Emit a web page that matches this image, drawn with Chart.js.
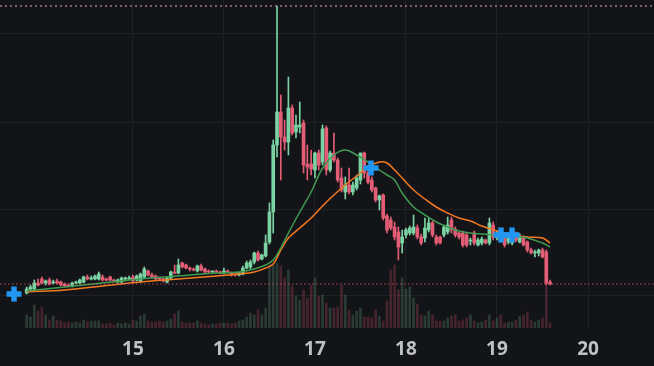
<!DOCTYPE html>
<html>
<head>
<meta charset="utf-8">
<script src="https://cdn.jsdelivr.net/npm/chart.js@4.4.1/dist/chart.umd.min.js"></script>
<style>
  html, body { margin: 0; padding: 0; background: #131417; }
  #chart { display: block; }
</style>
</head>
<body>
<canvas id="chart" width="654" height="366"></canvas>
<script>
// hourly candles, first one at day 13, 20:00
const START_DAY = 13 + 20 / 24;

const opens = [37,41,41,47,51,47,50,47,49,48, 46,45,44,47,47,48,53,51,51,51, 53,51,53,50,48,48,51,51,53,50,
  49,53,59,55,54,52,51,48,52,58, 57,67,65,62,61,59,64,61,59,58, 59,58,57,59,57,56,55,56,62,63,
  68,77,71,74,88,118,185,218,193,188, 222,198,203,207,166,166,160,177,168,202, 160,177,170,152,138,145,138,142,150,177,
  157,150,142,130,135,114,110,103,98,87, 95,97,97,102,93,92,100,107,93,93, 95,98,110,101,97,97,95,89,97,85,
  87,90,87,105,92,98,93,88,87,96, 88,92,88,80,77,77,80,78,48];
const highs = [43,45,50,51,53,50,52,50,51,49, 47,46,48,49,51,54,55,54,55,58, 55,52,54,51,51,53,53,54,55,55,
  57,63,60,57,55,53,52,53,59,65, 71,68,66,63,62,65,66,62,60,59, 60,59,62,60,58,57,58,64,69,70,
  78,79,76,95,127,190,324,235,210,253, 225,215,228,210,185,180,178,180,205,204, 179,197,172,162,153,162,148,155,177,178,
  162,153,143,135,136,116,113,108,103,100, 102,104,115,105,96,112,112,109,95,94, 105,113,113,103,98,99,97,92,99,92,
  93,91,112,108,99,100,95,96,100,98, 96,94,89,82,80,81,82,80,50];
const lows = [36,39,39,44,46,45,45,46,46,44, 43,43,43,46,46,47,50,50,50,50, 49,49,49,48,47,47,49,50,48,49,
  48,52,54,52,50,50,48,47,51,56, 56,62,61,59,59,58,59,57,57,57, 57,56,56,57,54,54,54,55,61,61,
  66,69,70,73,86,97,173,150,180,175, 195,192,197,157,150,155,152,160,165,155, 158,168,148,138,131,136,135,140,146,152,
  146,138,128,120,110,97,100,90,70,77, 92,95,95,91,85,88,98,93,85,86, 93,96,97,93,91,83,83,85,85,84,
  85,86,85,90,90,88,83,86,85,88, 87,84,78,76,73,74,72,45,45];
const closes = [41,43,47,45,47,49,46,48,47,45, 44,44,47,48,50,53,51,52,54,56, 50,50,50,49,50,52,52,52,49,54,
  56,61,55,53,51,51,49,52,58,57, 65,63,62,61,60,64,60,58,58,59, 58,57,59,58,55,55,57,62,67,68,
  77,70,75,87,118,185,218,193,188,222, 197,205,205,165,163,161,177,165,201,160, 177,170,150,140,145,138,145,152,177,157,
  148,140,130,134,112,100,102,93,83,93, 100,102,103,93,87,102,107,95,87,87, 103,105,100,95,93,85,85,90,87,90,
  91,87,107,93,97,90,85,94,98,90, 93,85,80,77,78,80,73,47,46];
const volumes = [13,11,23,17,21,13,8,12,8,7, 5,6,5,6,5,8,6,7,7,7, 4,4,5,3,5,4,5,4,8,7,
  12,14,7,6,6,7,6,7,9,14, 17,6,5,5,5,7,5,4,3,4, 4,5,5,5,4,5,7,8,11,15,
  13,18,13,20,63,63,65,62,50,58, 42,32,28,38,30,43,50,32,33,25, 20,20,21,43,33,18,13,17,20,11,
  11,10,18,12,7,27,58,63,38,50, 39,41,30,24,13,12,17,13,7,7, 7,10,12,13,7,8,10,13,7,5,
  6,8,13,7,10,13,5,6,6,8, 12,13,16,8,6,8,10,42,5];

// moving averages, at candle index
const maIndex = [0,10,20,30,40,50,56,60,63,65,67,69,72,75,78,81,84,87,90,93,95,97,99,102,105,108,111,114,117,120,124,128,132,136,138];
const maFast = [39,43,47,51,54,57,58,61,65,70,82,97,118,138,162,175,180,175,168,160,155,150,137,123,115,108,103,99,97,96,95,94,92,87,83];
const maSlow = [38,40,44,48,51,54,56,58,62,66,80,92,102,112,124,135,145,154,163,168,167,160,152,140,131,123,117,112,109,104,99,95,93,92,87];

const markerDays = [13.694, 17.616, 19.044, 19.165];
const markerPrices = [36, 162, 95, 95];

const dayTicks = [15, 16, 17, 18, 19, 20];
const priceGrid = [35, 121, 208, 296];

const X_MIN = 13.54, X_MAX = 20.725;
const UP = '#7bd3a3', DOWN = '#e45d76';
const UP_VOL = 'rgba(95,150,120,0.3)', DOWN_VOL = 'rgba(190,75,100,0.3)';

const times = opens.map((_, i) => START_DAY + i / 24);
const candleColors = opens.map((o, i) => closes[i] >= o ? UP : DOWN);
const volColors = opens.map((o, i) => closes[i] >= o ? UP_VOL : DOWN_VOL);
const topPrice = Math.max(...highs);
const lastPrice = closes[closes.length - 1];

const ctx = document.getElementById('chart').getContext('2d');
new Chart(ctx, {
  type: 'bar',
  data: {
    datasets: [
      {
        type: 'line', order: 0,
        data: markerDays.map((d, i) => ({ x: d, y: markerPrices[i] })),
        showLine: false,
        pointStyle: 'cross', pointRadius: 7.5,
        pointBorderWidth: 5.5, pointBorderColor: '#2196f3', pointBackgroundColor: '#2196f3',
        yAxisID: 'y', clip: false
      },
      {
        type: 'line', order: 1,
        data: [{ x: X_MIN, y: topPrice }, { x: X_MAX, y: topPrice }],
        borderColor: 'rgba(205,150,160,0.75)', borderWidth: 1.5, borderDash: [2, 3],
        pointRadius: 0, yAxisID: 'y'
      },
      {
        type: 'line', order: 1,
        data: [{ x: X_MIN, y: lastPrice }, { x: X_MAX, y: lastPrice }],
        borderColor: 'rgba(228,93,118,0.75)', borderWidth: 1.2, borderDash: [1.5, 2.5],
        pointRadius: 0, yAxisID: 'y'
      },
      {
        type: 'line', order: 2,
        data: maIndex.map((k, i) => ({ x: START_DAY + k / 24, y: maFast[i] })),
        borderColor: '#3f9a52', borderWidth: 1.5, tension: 0.4,
        pointRadius: 0, yAxisID: 'y'
      },
      {
        type: 'line', order: 2,
        data: maIndex.map((k, i) => ({ x: START_DAY + k / 24, y: maSlow[i] })),
        borderColor: '#f47a22', borderWidth: 1.5, tension: 0.4,
        pointRadius: 0, yAxisID: 'y'
      },
      {
        order: 3, grouped: false,
        data: times.map((t, i) => ({ x: t, y: [opens[i], closes[i]] })),
        backgroundColor: candleColors,
        barThickness: 3, minBarLength: 1, yAxisID: 'y'
      },
      {
        order: 4, grouped: false,
        data: times.map((t, i) => ({ x: t, y: [lows[i], highs[i]] })),
        backgroundColor: candleColors,
        barThickness: 1, yAxisID: 'y'
      },
      {
        order: 5, grouped: false,
        data: times.map((t, i) => ({ x: t, y: volumes[i] })),
        backgroundColor: volColors,
        barThickness: 2, yAxisID: 'yv'
      }
    ]
  },
  options: {
    responsive: false,
    animation: false,
    devicePixelRatio: 1,
    layout: { autoPadding: false, padding: 0 },
    plugins: { legend: { display: false }, tooltip: { enabled: false } },
    scales: {
      x: {
        type: 'linear', min: X_MIN, max: X_MAX, offset: false,
        afterBuildTicks: (scale) => { scale.ticks = dayTicks.map(v => ({ value: v })); },
        afterFit: (scale) => { scale.height = 38; },
        grid: { color: '#1f2125', lineWidth: 1, drawTicks: false, offset: false },
        border: { display: false },
        ticks: {
          color: '#bfc1c6', padding: 10,
          font: { family: 'Open Sans', size: 19, weight: 'bold' },
          callback: (v) => String(v)
        }
      },
      y: {
        type: 'linear', min: 2, max: 330, display: true,
        afterBuildTicks: (scale) => { scale.ticks = priceGrid.map(v => ({ value: v })); },
        grid: { color: '#1f2125', lineWidth: 1, drawTicks: false },
        border: { display: false },
        ticks: { display: false }
      },
      yv: {
        type: 'linear', min: 0, max: 328, display: false
      }
    }
  }
});
</script>
</body>
</html>
